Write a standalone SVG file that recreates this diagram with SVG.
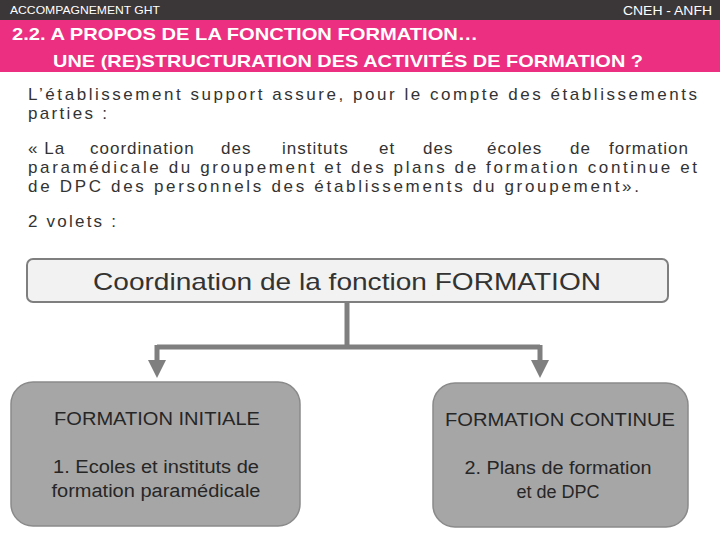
<svg xmlns="http://www.w3.org/2000/svg" width="720" height="540" viewBox="0 0 720 540">
<style>
.hdr{font-family:"Liberation Sans",Arial,sans-serif;font-size:11px;fill:#ffffff}
.ttl{font-family:"Liberation Sans",Arial,sans-serif;font-size:17px;font-weight:bold;fill:#ffffff}
.body{font-family:"Liberation Sans",Arial,sans-serif;font-size:17px;fill:#333333;letter-spacing:1px}
.top{font-family:"Liberation Sans",Arial,sans-serif;font-size:24px;fill:#333333;text-anchor:middle}
.bx{font-family:"Liberation Sans",Arial,sans-serif;font-size:18px;fill:#262626;text-anchor:middle}
.con{stroke:#7f7f7f;stroke-width:5;fill:none}
</style>
<defs>
<marker id="ah" markerWidth="3.6" markerHeight="3.6" refX="1.6" refY="1.8" orient="auto" markerUnits="strokeWidth">
<path d="M0,0 L3.6,1.8 L0,3.6 z" fill="#7f7f7f"/>
</marker>
</defs>
<rect x="0" y="0" width="720" height="20" fill="#3b3738"/>
<text class="hdr" x="10" y="14" textLength="150" lengthAdjust="spacingAndGlyphs">ACCOMPAGNEMENT GHT</text>
<text class="hdr" x="623" y="15" style="font-size:13px" textLength="89" lengthAdjust="spacingAndGlyphs">CNEH - ANFH</text>
<rect x="0" y="20" width="720" height="52" fill="#ec2f80"/>
<text class="ttl" x="12" y="40" textLength="466" lengthAdjust="spacingAndGlyphs">2.2. A PROPOS DE LA FONCTION FORMATION…</text>
<text class="ttl" x="53" y="67" textLength="590" lengthAdjust="spacingAndGlyphs">UNE (RE)STRUCTURATION DES ACTIVITÉS DE FORMATION ?</text>
<text class="body" x="28" y="100" textLength="670" lengthAdjust="spacing">L’établissement support assure, pour le compte des établissements</text>
<text class="body" x="28" y="119" textLength="80" lengthAdjust="spacing">parties :</text>
<text class="body" y="154"><tspan x="28">« La</tspan><tspan x="90">coordination</tspan><tspan x="221">des</tspan><tspan x="282">instituts</tspan><tspan x="379">et</tspan><tspan x="423">des</tspan><tspan x="487">écoles</tspan><tspan x="570">de</tspan><tspan x="609">formation</tspan></text>
<text class="body" x="28" y="173" textLength="670" lengthAdjust="spacing">paramédicale du groupement et des plans de formation continue et</text>
<text class="body" x="28" y="192" textLength="612" lengthAdjust="spacing">de DPC des personnels des établissements du groupement».</text>
<text class="body" x="28" y="227" textLength="89" lengthAdjust="spacing">2 volets :</text>
<g id="connectors">
<path class="con" d="M347,302 V347"/>
<path class="con" d="M157,347 H540"/>
<path class="con" d="M157,345 V368" marker-end="url(#ah)"/>
<path class="con" d="M540,345 V368" marker-end="url(#ah)"/>
</g>
<g id="coord">
<rect x="27" y="259" width="641" height="43" rx="6" fill="#f2f2f2" stroke="#7f7f7f" stroke-width="2"/>
<text class="top" x="347" y="290" textLength="508" lengthAdjust="spacingAndGlyphs">Coordination de la fonction FORMATION</text>
</g>
<g id="initiale">
<rect x="11" y="382" width="289" height="144" rx="22" fill="#a6a6a6" stroke="#8a8a8a" stroke-width="1.5"/>
<text class="bx" x="157" y="425" textLength="206" lengthAdjust="spacingAndGlyphs">FORMATION INITIALE</text>
<text class="bx" x="156" y="473" textLength="206" lengthAdjust="spacingAndGlyphs">1. Ecoles et instituts de</text>
<text class="bx" x="156" y="497" textLength="209" lengthAdjust="spacingAndGlyphs">formation paramédicale</text>
</g>
<g id="continue">
<rect x="433" y="383" width="255" height="144" rx="22" fill="#a6a6a6" stroke="#8a8a8a" stroke-width="1.5"/>
<text class="bx" x="560" y="426" textLength="230" lengthAdjust="spacingAndGlyphs">FORMATION CONTINUE</text>
<text class="bx" x="558" y="474" textLength="187" lengthAdjust="spacingAndGlyphs">2. Plans de formation</text>
<text class="bx" x="558" y="498">et de DPC</text>
</g>
</svg>
